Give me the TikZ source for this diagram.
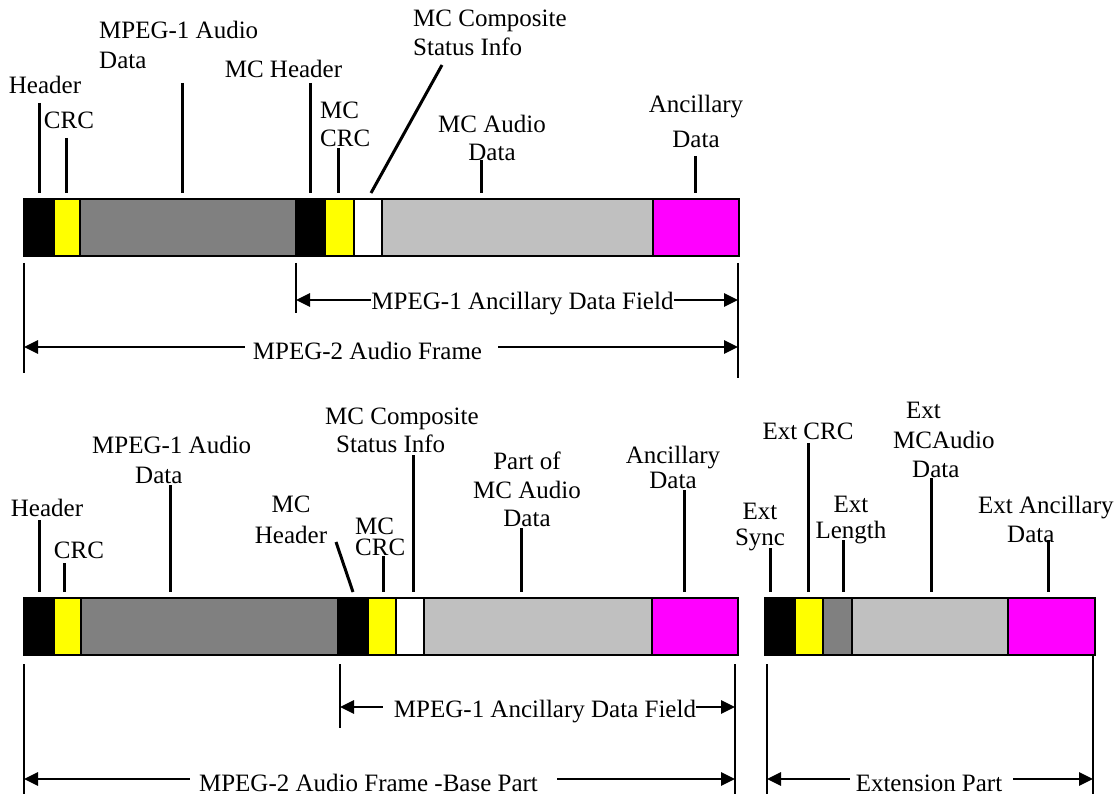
\documentclass[tikz,border=0pt]{standalone}
\usepackage{fontspec}
\setmainfont{Liberation Serif}
\usetikzlibrary{arrows.meta}
\definecolor{dgray}{HTML}{808080}
\definecolor{lgray}{HTML}{C0C0C0}
\definecolor{yel}{HTML}{FFFF00}
\definecolor{mag}{HTML}{FF00FF}
\begin{document}
\begin{tikzpicture}[x=1pt,y=-1pt,
  seg/.style={draw=black,line width=2.6pt,anchor=north west,inner sep=0pt,outer sep=0pt,minimum height=57pt,minimum width=#1pt},
  lbl/.style={inner sep=0pt,font=\fontsize{25}{30}\selectfont},
  lead/.style={line width=3pt},
  dimext/.style={line width=2.4pt},
  dimarr/.style={line width=2.8pt,{Triangle[length=14pt,width=13pt]}-{Triangle[length=14pt,width=13pt]}},
  dlbl/.style={lbl,fill=white,anchor=base},
]
\useasboundingbox (0,0) rectangle (1120,794);

% ---------------- top bar ----------------
\node[seg=30,fill=black] (tA) at (24,199) {};
\node[seg=26,fill=yel]   (tB) at (54,199) {};
\node[seg=216,fill=dgray] (tC) at (80,199) {};
\node[seg=29,fill=black] (tD) at (296,199) {};
\node[seg=29,fill=yel]   (tE) at (325,199) {};
\node[seg=28,fill=white] (tF) at (354,199) {};
\node[seg=271,fill=lgray] (tG) at (382,199) {};
\node[seg=86,fill=mag]   (tH) at (653,199) {};

% top labels
\node[lbl] (hdrT) at (45,85) {Header};
\node[lbl] (crcT) at (69,120) {CRC};
\node[lbl,align=left,anchor=west] (mpgT) at (99,45) {MPEG-1 Audio\\Data};
\node[lbl] (mchT) at (283.5,69) {MC Header};
\node[lbl,align=left,anchor=west,font=\fontsize{25}{28}\selectfont] (mccT) at (320,124.5) {MC\\CRC};
\node[lbl,align=left,anchor=west,font=\fontsize{25}{29}\selectfont] (mcsT) at (413,32.5) {MC Composite\\Status Info};
\node[lbl,align=center,font=\fontsize{25}{28}\selectfont] (mcaT) at (492,137.5) {MC Audio\\Data};
\node[lbl,align=center,font=\fontsize{25}{35}\selectfont] (ancT) at (696,121) {Ancillary\\Data};

% top leaders
\coordinate (pHdrT) at (39,103);  \coordinate (qHdrT) at (39,193);
\coordinate (pCrcT) at (66,138);  \coordinate (qCrcT) at (66,193);
\coordinate (pMpgT) at (182,83);  \coordinate (qMpgT) at (182,193);
\coordinate (pMchT) at (310,83);  \coordinate (qMchT) at (310,193);
\coordinate (pMccT) at (338,148); \coordinate (qMccT) at (338,193);
\coordinate (pMcsT) at (442,65);  \coordinate (qMcsT) at (371,193);
\coordinate (pMcaT) at (481,160); \coordinate (qMcaT) at (481,193);
\coordinate (pAncT) at (695,156); \coordinate (qAncT) at (695,193);
\foreach \n in {HdrT,CrcT,MpgT,MchT,MccT,McsT,McaT,AncT}
  \draw[lead] (p\n) -- (q\n);

% top dimensions
\coordinate (v1a) at (24,263);  \coordinate (v1b) at (24,373);
\coordinate (v2a) at (296,263); \coordinate (v2b) at (296,313);
\coordinate (v3a) at (738,263); \coordinate (v3b) at (738,378);
\draw[dimext] (v1a) -- (v1b);
\draw[dimext] (v2a) -- (v2b);
\draw[dimext] (v3a) -- (v3b);
\coordinate (aL) at (296,300); \coordinate (aR) at (738,300);
\draw[dimarr] (aL) -- (aR);
\node[dlbl] (ancFieldT) at (522.5,310) {MPEG-1 Ancillary Data Field};
\coordinate (bL) at (24,347); \coordinate (bR) at (738,347);
\draw[dimarr] (bL) -- (bR);
\node[dlbl] (frameT) at (371.5,360) {\hspace*{8pt}MPEG-2 Audio Frame\hspace*{16pt}};

% ---------------- bottom bar ----------------
\node[seg=30,fill=black] (bA) at (24,598) {};
\node[seg=27,fill=yel]   (bB) at (54,598) {};
\node[seg=257,fill=dgray] (bC) at (81,598) {};
\node[seg=30,fill=black] (bD) at (338,598) {};
\node[seg=28,fill=yel]   (bE) at (368,598) {};
\node[seg=28,fill=white] (bF) at (396,598) {};
\node[seg=228,fill=lgray] (bG) at (424,598) {};
\node[seg=86,fill=mag]   (bH) at (652,598) {};

% extension bar
\node[seg=30,fill=black] (eA) at (765,598) {};
\node[seg=28,fill=yel]   (eB) at (795,598) {};
\node[seg=29,fill=dgray] (eC) at (823,598) {};
\node[seg=156,fill=lgray] (eD) at (852,598) {};
\node[seg=87,fill=mag]   (eE) at (1008,598) {};

% bottom labels
\node[lbl] (hdrB) at (47,508) {Header};
\node[lbl] (crcB) at (79,550) {CRC};
\node[lbl,align=left,anchor=west] (mpgB) at (92,460) {MPEG-1 Audio\\\hspace*{43pt}Data};
\node[lbl,align=center,font=\fontsize{25}{31}\selectfont] (mchB) at (291,519.5) {MC\\Header};
\node[lbl,align=left,anchor=west,font=\fontsize{25}{21}\selectfont] (mccB) at (355,536.5) {MC\\CRC};
\node[lbl,align=left,anchor=west,font=\fontsize{25}{28}\selectfont] (mcsB) at (325,430.5) {MC Composite\\\hspace*{11pt}Status Info};
\node[lbl,align=center,font=\fontsize{25}{28.5}\selectfont] (prtB) at (527,489.5) {Part of\\MC Audio\\Data};
\node[lbl,align=center,font=\fontsize{25}{25}\selectfont] (ancB) at (673,467.5) {Ancillary\\Data};

\node[lbl,align=center,font=\fontsize{25}{26}\selectfont] (synE) at (760,527) {Ext\\Sync};
\node[lbl] (crcE) at (808,431.5) {Ext CRC};
\node[lbl,align=center,font=\fontsize{25}{26}\selectfont] (lenE) at (851,520.5) {Ext\\Length};
\node[lbl,align=left,anchor=west,font=\fontsize{25}{29.5}\selectfont] (audE) at (893,440) {\hspace*{13pt}Ext\\MCAudio\\\hspace*{19pt}Data};
\node[lbl,align=left,anchor=west,font=\fontsize{25}{29}\selectfont] (ancE) at (978,519.5) {Ext Ancillary\\\hspace*{29pt}Data};

% bottom leaders
\coordinate (pHdrB) at (39,520);  \coordinate (qHdrB) at (39,592);
\coordinate (pCrcB) at (64,563);  \coordinate (qCrcB) at (64,592);
\coordinate (pMpgB) at (170,485); \coordinate (qMpgB) at (170,592);
\coordinate (pMchB) at (336,542); \coordinate (qMchB) at (353,592);
\coordinate (pMccB) at (383,556); \coordinate (qMccB) at (383,592);
\coordinate (pMcsB) at (413,455); \coordinate (qMcsB) at (413,592);
\coordinate (pPrtB) at (521,528); \coordinate (qPrtB) at (521,592);
\coordinate (pAncB) at (684,490); \coordinate (qAncB) at (684,592);
\coordinate (pSynE) at (770,548); \coordinate (qSynE) at (770,592);
\coordinate (pCrcE) at (808,443); \coordinate (qCrcE) at (808,592);
\coordinate (pLenE) at (843,540); \coordinate (qLenE) at (843,592);
\coordinate (pAudE) at (931,478); \coordinate (qAudE) at (931,592);
\coordinate (pAncE) at (1048,540); \coordinate (qAncE) at (1048,592);
\foreach \n in {HdrB,CrcB,MpgB,MchB,MccB,McsB,PrtB,AncB,SynE,CrcE,LenE,AudE,AncE}
  \draw[lead] (p\n) -- (q\n);

% bottom dimensions
\coordinate (w1a) at (24,664);   \coordinate (w1b) at (24,800);
\coordinate (w2a) at (340,664);  \coordinate (w2b) at (340,728);
\coordinate (w3a) at (735,664);  \coordinate (w3b) at (735,800);
\coordinate (w4a) at (767,664);  \coordinate (w4b) at (767,800);
\coordinate (w5a) at (1093,656); \coordinate (w5b) at (1093,800);
\foreach \n in {1,...,5}
  \draw[dimext] (w\n a) -- (w\n b);
\coordinate (cL) at (340,707); \coordinate (cR) at (735,707);
\draw[dimarr] (cL) -- (cR);
\node[dlbl] (ancFieldB) at (539.5,717) {\hspace*{11pt}MPEG-1 Ancillary Data Field};
\coordinate (dL) at (24,779); \coordinate (dR) at (735,779);
\draw[dimarr] (dL) -- (dR);
\node[dlbl] (frameB) at (373.5,791) {\hspace*{9pt}MPEG-2 Audio Frame -Base Part\hspace*{19pt}};
\coordinate (eL) at (767,779); \coordinate (eR) at (1093,779);
\draw[dimarr] (eL) -- (eR);
\node[dlbl] (extP) at (931.5,791) {\hspace*{6pt}Extension Part\hspace*{11pt}};
\end{tikzpicture}
\end{document}
